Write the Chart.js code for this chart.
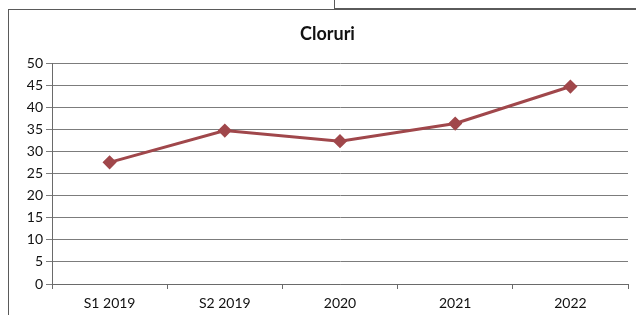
<!DOCTYPE html>
<html lang="ro">
<head>
    <meta charset="UTF-8">
    <title>Cloruri</title>
    <script src="https://cdn.jsdelivr.net/npm/chart.js"></script>
    <style>
        body { margin: 0; background: #fff; }
        #wrap { position: relative; width: 636px; height: 315px; }
        .ln { position: absolute; background: #5a5a5a; }
    </style>
</head>
<body>
<div id="wrap">
    <canvas id="clorChart" width="636" height="315"></canvas>
    <!-- ramele din fotografie -->
    <div class="ln" style="left:8px; top:9px; width:1px; height:306px;"></div>
    <div class="ln" style="left:8px; top:9px; width:326px; height:1px;"></div>
    <div class="ln" style="left:334px; top:0; width:1px; height:9px;"></div>
    <div class="ln" style="left:334px; top:8px; width:302px; height:2px;"></div>
</div>
<script>
// date
var perioade = ["S1 2019", "S2 2019", "2020", "2021", "2022"];
var cloruri = [27.6, 34.8, 32.4, 36.4, 44.8];
var yMin = 0, yMax = 50, yPas = 5;

var ctx = document.getElementById("clorChart").getContext("2d");
var grafic = new Chart(ctx, {
    type: "line",
    data: {
        labels: perioade,
        datasets: [{
            label: "Cloruri",
            data: cloruri,
            borderColor: "#a0474b",
            backgroundColor: "#a0474b",
            borderWidth: 3,
            tension: 0,
            pointStyle: "rectRot",
            pointRadius: 5,
            pointHoverRadius: 5,
            fill: false
        }]
    },
    options: {
        responsive: false,
        animation: false,
        // padding stanga ca titlul sa fie centrat ca in original
        layout: { padding: { left: 22, right: 3, top: 0, bottom: 0 } },
        plugins: {
            legend: { display: false },
            tooltip: { enabled: false },
            title: {
                display: true,
                text: "Cloruri",
                color: "#111",
                font: { family: "Lato", size: 18, weight: "bold" },
                padding: { top: 23, bottom: 19 }
            }
        },
        scales: {
            x: {
                offset: true,
                grid: {
                    offset: true,
                    drawOnChartArea: false,
                    drawTicks: true,
                    tickLength: 5,
                    color: "#6a6a6a"
                },
                border: { display: true, color: "#6a6a6a", width: 1 },
                ticks: {
                    color: "#111",
                    font: { family: "Lato", size: 14 },
                    padding: 6,
                    maxRotation: 0
                },
                afterFit: function (s) { s.height = 31; }
            },
            y: {
                min: yMin,
                max: yMax,
                ticks: {
                    stepSize: yPas,
                    color: "#111",
                    font: { family: "Lato", size: 14 },
                    padding: 3
                },
                grid: { color: "#7c7c7c", tickLength: 6 },
                border: { display: true, color: "#6a6a6a", width: 1 },
                afterFit: function (s) { s.width = 30; }
            }
        }
    }
});
</script>
</body>
</html>
